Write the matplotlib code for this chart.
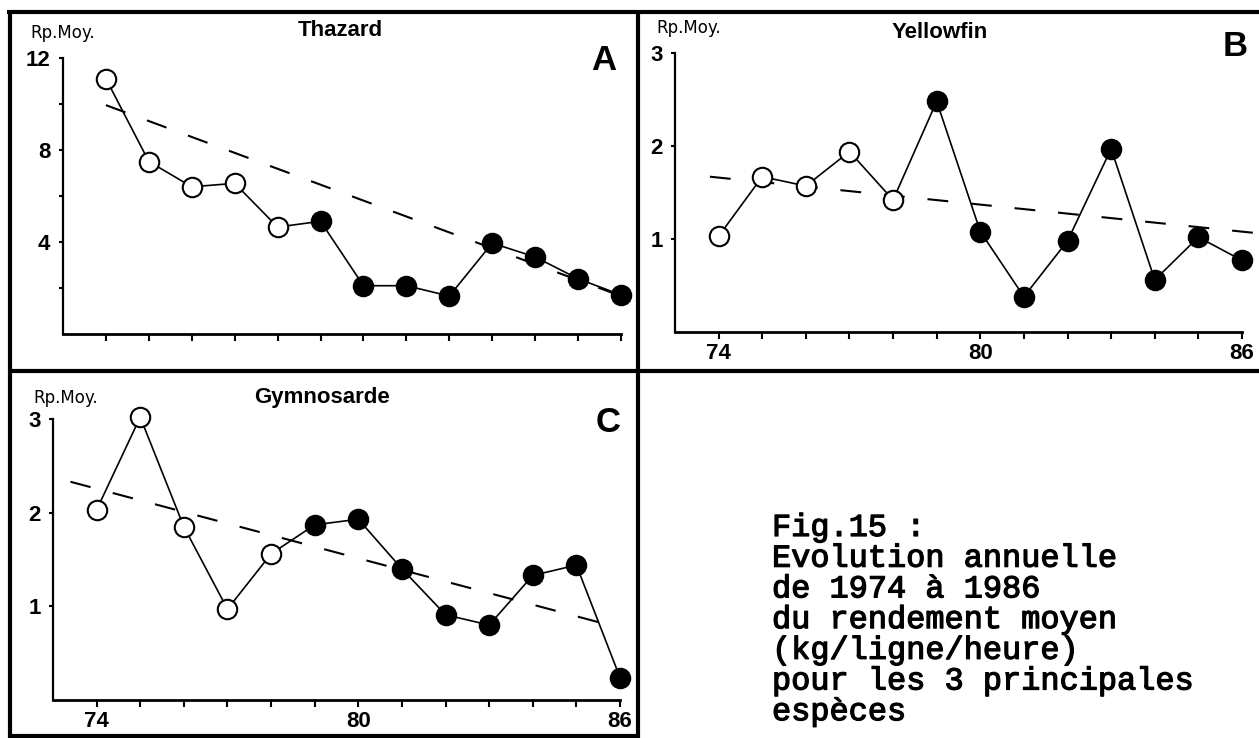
import matplotlib
matplotlib.use("Agg")
import matplotlib.pyplot as plt
from matplotlib.lines import Line2D
import matplotlib.patheffects as pe

# ---------------- data ----------------
years = [74, 75, 76, 77, 78, 79, 80, 81, 82, 83, 84, 85, 86]
n_open = 5  # 1974-1978 open circles, 1979-1986 filled

thazard = [11.1, 7.5, 6.4, 6.55, 4.65, 4.9, 2.1, 2.1, 1.65, 3.95, 3.35, 2.4, 1.7]
thazard_trend_x = [74, 86]
thazard_trend_y = [9.95, 1.65]

yellowfin = [1.03, 1.67, 1.57, 1.94, 1.42, 2.48, 1.08, 0.38, 0.98, 1.97, 0.56, 1.02, 0.77]
yellowfin_trend_x = [73.8, 86.4]
yellowfin_trend_y = [1.67, 1.06]

gymnosarde = [2.03, 3.02, 1.85, 0.97, 1.56, 1.87, 1.93, 1.40, 0.91, 0.80, 1.33, 1.44, 0.24]
gymno_trend_x = [73.4, 86.0]
gymno_trend_y = [2.33, 0.77]

titles = ["Thazard", "Yellowfin", "Gymnosarde"]
letters = ["A", "B", "C"]
ylabel = "Rp.Moy."

caption_lines = [
    "Fig.15 :",
    "Evolution annuelle",
    "de 1974 à 1986",
    "du rendement moyen",
    "(kg/ligne/heure)",
    "pour les 3 principales",
    "espèces",
]

# ---------------- figure ----------------
W, H = 1259, 738
fig = plt.figure(figsize=(W / 100, H / 100), dpi=100)
fig.patch.set_facecolor("white")


def px_rect(left, top, right, bottom):
    return [left / W, 1 - bottom / H, (right - left) / W, (bottom - top) / H]


def panel(rect, values, tx, ty, ymax, yticks, yticklabels, minor_y, xlabels):
    ax = fig.add_axes(rect)
    ax.set_xlim(73, 86)
    ax.set_ylim(0, ymax)
    for s in ["top", "right"]:
        ax.spines[s].set_visible(False)
    ax.spines["left"].set_linewidth(1.6)
    ax.spines["bottom"].set_linewidth(2.0)
    ax.set_facecolor("none")
    # trend line
    ax.plot(tx, ty, color="black", lw=1.5, dashes=(10, 11), clip_on=False, zorder=2)
    # series
    ax.plot(years, values, color="black", lw=1.2, zorder=3, clip_on=False)
    ax.plot(years[:n_open], values[:n_open], ls="none", marker="o", ms=14,
            mfc="white", mec="black", mew=1.5, zorder=4, clip_on=False)
    ax.plot(years[n_open:], values[n_open:], ls="none", marker="o", ms=14,
            mfc="black", mec="black", mew=1.5, zorder=4, clip_on=False)
    ax.set_xticks(years)
    ax.set_xticklabels([str(y) if str(y) in xlabels else "" for y in years],
                       fontsize=16, fontweight="bold", family="Liberation Sans")
    ax.tick_params(axis="x", direction="out", length=5, width=1.5, pad=3)
    ax.set_yticks(yticks)
    ax.set_yticklabels(yticklabels, fontsize=16, fontweight="bold", family="Liberation Sans")
    ax.set_yticks(minor_y, minor=True)
    ax.tick_params(axis="y", which="both", direction="out", length=3, width=1.5, pad=6)
    return ax


axA = panel(px_rect(63, 58, 621, 334), thazard, thazard_trend_x, thazard_trend_y,
            12, [12, 8, 4], ["12", "8", "4"], [2, 6, 10], [])
axB = panel(px_rect(675, 53, 1242, 332), yellowfin, yellowfin_trend_x, yellowfin_trend_y,
            3, [3, 2, 1], ["3", "2", "1"], [], ["74", "80", "86"])
axC = panel(px_rect(53, 419, 620, 700), gymnosarde, gymno_trend_x, gymno_trend_y,
            3, [3, 2, 1], ["3", "2", "1"], [], ["74", "80", "86"])

# overlay in pixel coordinates for frames and annotations
ov = fig.add_axes([0, 0, 1, 1], zorder=-1)
ov.set_xlim(0, W)
ov.set_ylim(H, 0)
ov.axis("off")

frame_kw = dict(color="black", lw=3.0, solid_capstyle="butt")
ov.add_line(Line2D([7, W], [12, 12], **frame_kw))
ov.add_line(Line2D([10, 10], [12, H], **frame_kw))
ov.add_line(Line2D([638, 638], [12, H], **frame_kw))
ov.add_line(Line2D([10, W], [371, 371], **frame_kw))
ov.add_line(Line2D([10, 638], [736, 736], **frame_kw))

title_kw = dict(fontsize=16, fontweight="bold", family="Liberation Sans",
                ha="center", va="center")
ov.text(340, 31, titles[0], **title_kw)
ov.text(940, 33, titles[1], **title_kw)
ov.text(322, 397, titles[2], **title_kw)

letter_kw = dict(fontsize=25, fontweight="bold", family="Liberation Sans",
                 ha="center", va="center")
ov.text(604, 60, letters[0], **letter_kw)
ov.text(1235, 46, letters[1], **letter_kw)
ov.text(608, 422, letters[2], **letter_kw)

yl_kw = dict(fontsize=12, family="DejaVu Sans", ha="left", va="center")
ov.text(30, 33, ylabel, **yl_kw)
ov.text(656, 28, ylabel, **yl_kw)
ov.text(33, 398, ylabel, **yl_kw)

# caption
for i, line in enumerate(caption_lines):
    ov.text(772, 528 + i * 30.7, line, fontsize=23, family="Liberation Mono",
            ha="left", va="center",
            path_effects=[pe.withStroke(linewidth=0.9, foreground="black")])

fig.savefig("out.png", dpi=100)
